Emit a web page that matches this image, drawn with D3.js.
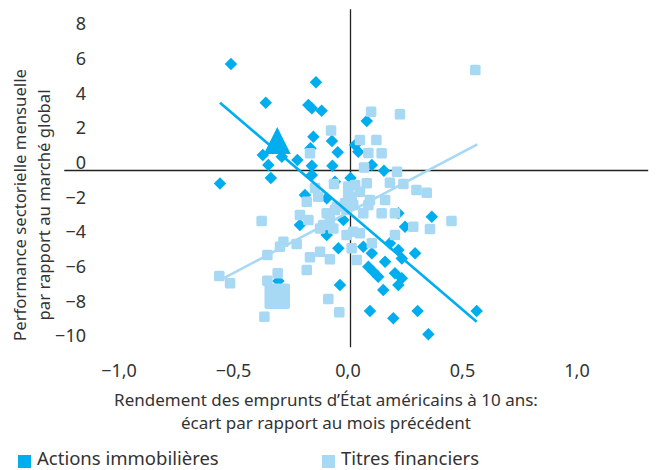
<!DOCTYPE html>
<html><head><meta charset="utf-8">
<script src="https://cdn.jsdelivr.net/npm/d3@7"></script>
<style>body{margin:0;background:#fff}svg{display:block;font-family:"Noto Sans",sans-serif}</style>
</head><body><svg id="c" width="660" height="470"></svg>
<script>
// ---- data ----
const xTicks = [-1, -0.5, 0, 0.5, 1];
const yTicks = [8, 6, 4, 2, 0, -2, -4, -6, -8, -10];
const seriesNames = ["Actions immobilières", "Titres financiers"];
// Actions immobilières (diamonds)
const reX = [-0.522,-0.151,-0.370,-0.184,-0.169,-0.126,0.071,-0.162,-0.081,-0.056,-0.175,-0.383,-0.359,-0.300,-0.232,-0.169,-0.079,0.020,0.034,0.093,0.146,-0.570,-0.348,-0.169,0.000,-0.068,-0.199,-0.104,-0.031,-0.221,-0.104,-0.053,-0.046,-0.315,0.355,0.238,0.209,0.056,0.093,0.172,0.209,0.282,0.224,0.151,0.078,0.100,0.121,0.194,0.224,0.209,0.143,0.085,0.187,0.293,0.340,0.551];
const reY = [6.15,5.09,3.91,3.78,3.59,3.45,2.86,1.95,1.70,1.05,1.28,0.89,0.32,0.80,0.61,0.28,0.28,1.47,1.08,0.32,-0.01,-0.75,-0.43,-0.26,-0.43,-0.65,-1.41,-1.60,-2.86,-3.14,-3.72,-4.49,-6.61,-6.38,-2.67,-3.24,-2.47,-4.40,-4.78,-4.20,-4.59,-4.78,-5.07,-5.26,-5.55,-5.84,-6.13,-5.93,-6.22,-6.61,-6.90,-8.11,-8.53,-8.11,-9.45,-8.11];
// Titres financiers (squares)
const finX = [0.545,0.090,0.216,-0.085,0.041,0.113,0.078,0.136,-0.177,0.059,0.203,0.288,0.333,0.231,0.172,-0.072,0.071,-0.010,0.041,-0.155,-0.191,-0.221,-0.184,-0.104,-0.068,-0.119,-0.075,-0.017,0.012,-0.017,-0.388,-0.293,-0.308,-0.235,-0.363,-0.177,-0.133,-0.090,-0.191,-0.573,-0.526,-0.318,-0.363,-0.376,-0.097,-0.049,0.005,0.441,0.347,0.274,0.194,0.136,0.194,0.093,0.027,0.085,0.012,0.041,0.020,0.151,0.005,0.078,-0.141,-0.024,-0.060,-0.090,-0.133,0.056,-0.010];
const finY = [5.80,3.39,3.24,2.31,1.76,1.76,1.01,0.99,0.99,0.17,-0.07,-1.13,-1.28,-0.78,-0.70,-0.78,-0.74,-1.32,-1.22,-1.01,-1.80,-2.57,-2.86,-2.47,-2.28,-3.14,-3.34,-2.28,-3.53,-3.72,-2.91,-4.11,-4.40,-4.24,-4.88,-5.01,-4.69,-5.12,-5.74,-6.09,-6.51,-5.93,-6.36,-8.44,-7.41,-8.18,-4.49,-2.91,-3.38,-3.24,-3.72,-2.47,-2.47,-4.20,-5.16,-1.70,-1.99,-3.62,-0.84,-1.70,-1.51,-1.99,-1.51,-1.89,-2.09,-2.86,-3.34,-2.47,-0.93];
// regression lines (end points)
const reTrendX = [-0.570, 0.551], reTrendY = [3.91, -8.72];
const finTrendX = [-0.555, 0.554], finTrendY = [-6.22, 1.51];
// latest month (highlighted)
const latestX = -0.32, reLatestY = 1.70, finLatestY = -7.25;

const dark = "#00AEEF", light = "#A7D8F4", txt = "#333333";

const svg = d3.select("#c");
const x = d3.scaleLinear().domain([-1.25, 1.30]).range([64.25, 648.2]);
const y = d3.scaleLinear().domain([-10.2, 9.3]).range([347.3, 9.3]);
const loc = d3.formatLocale({decimal: ",", thousands: " ", grouping: [3], currency: ["", "€"], minus: "\u2212"});

// zero lines
svg.append("line").attr("x1", x(-1.25)).attr("x2", x(1.30)).attr("y1", y(0)).attr("y2", y(0)).attr("stroke", "#222").attr("stroke-width", 1.3);
svg.append("line").attr("x1", x(0)).attr("x2", x(0)).attr("y1", y(9.3)).attr("y2", y(-10.2)).attr("stroke", "#222").attr("stroke-width", 1.3);

// axes
const gy = svg.append("g").attr("transform", "translate(86,0)")
  .call(d3.axisLeft(y).tickValues(yTicks).tickSize(0).tickPadding(0).tickFormat(loc.format("d")));
gy.select(".domain").remove();
gy.selectAll("text").attr("dy", "-0.12em").attr("fill", txt).style("font-size", "18px").style("font-family", "Noto Sans");

const gx = svg.append("g").attr("transform", "translate(-3,364)")
  .call(d3.axisBottom(x).tickValues(xTicks).tickSize(0).tickPadding(0).tickFormat(loc.format(".1f")));
gx.select(".domain").remove();
gx.selectAll("text").attr("dy", "0.71em").attr("fill", txt).style("font-size", "18px").style("font-family", "Noto Sans");

// axis titles
const xt = svg.append("text").attr("text-anchor", "middle").attr("fill", txt).style("font-size", "17px");
xt.append("tspan").attr("x", 326).attr("y", 406).text("Rendement des emprunts d’État américains à 10 ans:");
xt.append("tspan").attr("x", 326).attr("y", 429).text("écart par rapport au mois précédent");
const yt = svg.append("g").attr("fill", txt).style("font-size", "16.7px");
yt.append("text").attr("text-anchor", "middle").attr("transform", "translate(26,205) rotate(-90)").text("Performance sectorielle mensuelle");
yt.append("text").attr("text-anchor", "middle").attr("transform", "translate(50,205) rotate(-90)").text("par rapport au marché global");

// points
const re = reX.map((v, i) => [v, reY[i]]);
const fin = finX.map((v, i) => [v, finY[i]]);
const dSym = d3.symbol().type(d3.symbolSquare).size(78);
svg.append("g").selectAll("path").data(re).join("path")
  .attr("d", dSym).attr("fill", dark)
  .attr("transform", d => `translate(${x(d[0])},${y(d[1])}) rotate(45)`);
const sq = 10.5;
svg.append("g").selectAll("rect").data(fin).join("rect")
  .attr("x", d => x(d[0]) - sq / 2).attr("y", d => y(d[1]) - sq / 2)
  .attr("width", sq).attr("height", sq).attr("rx", 1.5).attr("fill", light);

// trend lines
const line = d3.line().x(d => x(d[0])).y(d => y(d[1]));
svg.append("path").attr("d", line(finTrendX.map((v, i) => [v, finTrendY[i]]))).attr("stroke", light).attr("stroke-width", 2.6).attr("fill", "none");
svg.append("path").attr("d", line(reTrendX.map((v, i) => [v, reTrendY[i]]))).attr("stroke", dark).attr("stroke-width", 2.6).attr("fill", "none");

// latest month markers
const big = 25.5;
svg.append("rect").attr("x", x(latestX) - big / 2).attr("y", y(finLatestY) - big / 2).attr("width", big).attr("height", big).attr("rx", 2).attr("fill", light);
const tri = {draw(ctx, size) { const w = 13.5; ctx.moveTo(0, -14); ctx.lineTo(w, 13); ctx.lineTo(-w, 13); ctx.closePath(); }};
svg.append("path").attr("d", d3.symbol().type(tri)()).attr("fill", dark)
  .attr("transform", `translate(${x(latestX)},${y(reLatestY)})`);

// legend
const lg = svg.append("g").style("font-size", "18.5px").attr("fill", txt);
[[18, dark, seriesNames[0]], [322, light, seriesNames[1]]].forEach(([lx, c, t]) => {
  lg.append("rect").attr("x", lx).attr("y", 455).attr("width", 13).attr("height", 13).attr("fill", c);
  lg.append("text").attr("x", lx + 19).attr("y", 465).text(t);
});
</script></body></html>
